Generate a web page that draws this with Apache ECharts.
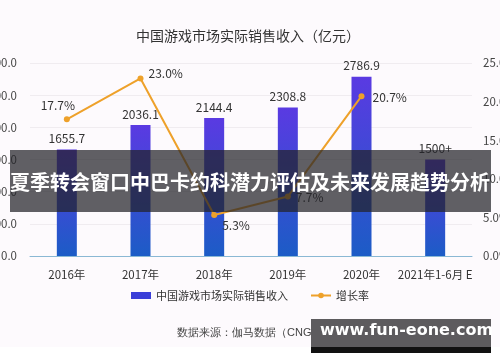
<!DOCTYPE html>
<html>
<head>
<meta charset="utf-8">
<script src="https://cdn.jsdelivr.net/npm/echarts@6/dist/echarts.min.js"></script>
<style>
html,body{margin:0;padding:0;background:#fff;}
#c{width:500px;height:362px;}
</style>
</head>
<body>
<div id="c"></div>
<script>
var categories = ['2016年', '2017年', '2018年', '2019年', '2020年', '2021年1-6月 E'];
var revenue = [1655.7, 2036.1, 2144.4, 2308.8, 2786.9, 1500];
var revenueLabels = ['1655.7', '2036.1', '2144.4', '2308.8', '2786.9', '1500+'];
var growth = [17.7, 23.0, 5.3, 7.7, 20.7, null];
var leftTicks = [0, 500, 1000, 1500, 2000, 2500, 3000];
var rightTicks = [0, 5, 10, 15, 20, 25];

var font = '"Noto Sans CJK SC", "Noto Sans", sans-serif';
var chart = echarts.init(document.getElementById('c'), null, {renderer: 'canvas'});

var growthLabelCfg = [
  {position: 'top', offset: [-9, 0]},
  {position: 'right', offset: [0, -5]},
  {position: 'right', offset: [0, 10]},
  {position: 'right', offset: [0, 1]},
  {position: 'right', offset: [3, 1]}
];

var growthData = growth.map(function (v, i) {
  if (v === null) return null;
  var c = growthLabelCfg[i];
  return {value: v, label: {position: c.position, offset: c.offset}};
});

var option = {
  backgroundColor: '#fdfafd',
  textStyle: {fontFamily: font},
  title: {
    text: '中国游戏市场实际销售收入（亿元）',
    left: 243, textAlign: 'center', top: 24,
    textStyle: {fontSize: 14, fontWeight: 'normal', color: '#333', fontFamily: font}
  },
  legend: {
    bottom: 56, left: 'center',
    itemWidth: 20, itemHeight: 7, itemGap: 22,
    textStyle: {fontSize: 11, color: '#333', fontFamily: font},
    data: [
      {name: '中国游戏市场实际销售收入', icon: 'rect', itemStyle: {color: '#3a3ed8'}},
      {name: '增长率'}
    ]
  },
  grid: {left: 30, right: 28, top: 63, bottom: 106, containLabel: false, outerBoundsMode: 'none'},
  xAxis: {
    type: 'category', data: categories,
    axisLine: {lineStyle: {color: '#8ab8d4', width: 1}},
    axisTick: {show: false},
    axisLabel: {fontSize: 11.5, color: '#333', margin: 13, interval: 0, fontFamily: font}
  },
  yAxis: [
    {
      type: 'value', min: 0, max: 3000, interval: 500,
      axisLine: {show: false}, axisTick: {show: false},
      axisLabel: {fontSize: 11.5, color: '#444', margin: 13, formatter: function (v) { return v.toFixed(1); }},
      splitLine: {lineStyle: {color: '#f0ecf0'}}
    },
    {
      type: 'value', min: 0, max: 25, interval: 5,
      axisLine: {show: false}, axisTick: {show: false},
      axisLabel: {fontSize: 11.5, color: '#444', margin: 11, formatter: function (v) { return v.toFixed(1) + '%'; }},
      splitLine: {show: false}
    }
  ],
  series: [
    {
      name: '中国游戏市场实际销售收入', type: 'bar', barWidth: 20,
      data: revenue,
      itemStyle: {
        color: new echarts.graphic.LinearGradient(0, 0, 0, 1, [
          {offset: 0, color: '#5a3ae2'},
          {offset: 1, color: '#1c5cc6'}
        ])
      },
      label: {
        show: true, position: 'top', distance: 5, fontSize: 12, color: '#333',
        formatter: function (p) { return revenueLabels[p.dataIndex]; }
      },
      z: 2
    },
    {
      name: '增长率', type: 'line', yAxisIndex: 1,
      data: growthData,
      symbol: 'circle', symbolSize: 6,
      lineStyle: {color: '#eea12a', width: 2},
      itemStyle: {color: '#eea12a'},
      label: {
        show: true, fontSize: 12, color: '#333',
        formatter: function (p) { return p.value.toFixed(1) + '%'; }
      },
      z: 3
    }
  ],
  graphic: [
    {
      type: 'text', left: 177, top: 327, z: 10,
      style: {text: '数据来源：伽马数据（CNG）', fontSize: 11, fill: '#444', font: '11px ' + font}
    },
    {
      type: 'rect', left: 0, top: 347, z: 20,
      shape: {width: 500, height: 15}, style: {fill: '#ffffff'}
    },
    {
      type: 'rect', left: 10, top: 150, z: 30,
      shape: {width: 481, height: 62}, style: {fill: 'rgba(35,35,40,0.72)'}
    },
    {
      type: 'text', left: 'center', top: 172, z: 31,
      style: {text: '夏季转会窗口中巴卡约科潜力评估及未来发展趋势分析', fill: '#ffffff', font: 'bold 20px ' + font}
    },
    {
      type: 'rect', left: 311, top: 319, z: 30,
      shape: {width: 180, height: 28}, style: {fill: '#5d5b5e'}
    },
    {
      type: 'rect', left: 311, top: 347, z: 30,
      shape: {width: 180, height: 6}, style: {fill: '#111'}
    },
    {
      type: 'text', left: 320, top: 323, z: 31,
      style: {text: 'www.fun-eone.com', fill: '#ffffff', font: 'bold 16px "DejaVu Sans", sans-serif'}
    }
  ]
};
chart.setOption(option);
</script>
</body>
</html>
